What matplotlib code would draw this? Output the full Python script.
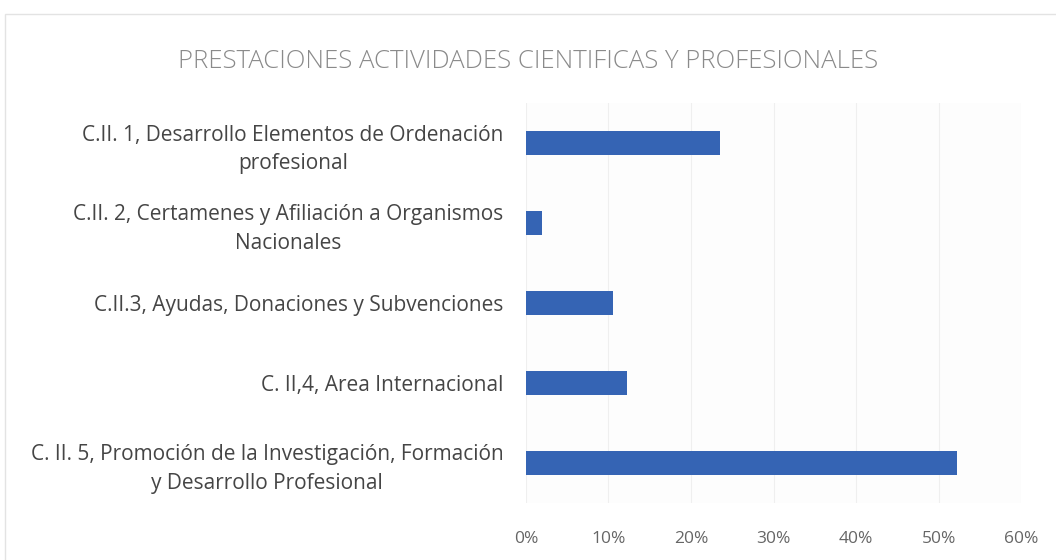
#!/usr/bin/env python3
# -*- coding: utf-8 -*-
"""
Prestaciones actividades cientificas y profesionales - bar chart
"""

import matplotlib
matplotlib.use("Agg")
import matplotlib.pyplot as plt
from matplotlib.patches import Rectangle
from matplotlib.ticker import FuncFormatter

categories = [
    "C.II. 1, Desarrollo Elementos de Ordenación\nprofesional",
    "C.II. 2, Certamenes y Afiliación a Organismos\nNacionales",
    "C.II.3, Ayudas, Donaciones y Subvenciones",
    "C. II,4, Area Internacional",
    "C. II. 5, Promoción de la Investigación, Formación\ny Desarrollo Profesional",
]
values = [23.5, 1.9, 10.6, 12.2, 52.2]
xticks = [0, 10, 20, 30, 40, 50, 60]

title = "PRESTACIONES ACTIVIDADES CIENTIFICAS Y PROFESIONALES"


def create_chart():
    plt.rcParams['font.family'] = ['Open Sans', 'DejaVu Sans']

    fig = plt.figure(figsize=(10.56, 5.6), dpi=100)
    ax = fig.add_axes([0.498, 0.102, 0.469, 0.714])

    # Chart border like the Excel frame
    fig.patches.append(Rectangle((0.005, -0.01), 1.2, 0.985, transform=fig.transFigure,
                                 fill=False, edgecolor='#e3e3e3', linewidth=1.0))

    ypos = list(range(len(categories)))
    ax.barh(ypos, values, height=0.3, color='#3564b4', zorder=3)

    ax.set_ylim(len(categories) - 0.5, -0.5)
    ax.set_xlim(0, 60)
    ax.set_xticks(xticks)
    ax.xaxis.set_major_formatter(FuncFormatter(lambda v, p: f"{v:.0f}%"))
    ax.set_yticks(ypos)
    ax.set_yticklabels(categories, fontsize=15, color='#454545', linespacing=1.45)
    for lbl in ax.get_yticklabels():
        lbl.set_multialignment('center')

    ax.tick_params(axis='y', length=0, pad=16)
    ax.tick_params(axis='x', length=0, pad=20, labelsize=12.5, labelcolor='#666666')

    ax.grid(axis='x', color='#efefef', linewidth=0.8, zorder=0)
    for s in ax.spines.values():
        s.set_visible(False)
    ax.set_facecolor('#fdfdfd')

    fig.text(0.5, 0.89, title, ha='center', va='center', fontsize=18.5,
             color='#8a8a8a', fontweight='light')

    fig.savefig("out.png", dpi=100)
    plt.close(fig)


if __name__ == "__main__":
    create_chart()
